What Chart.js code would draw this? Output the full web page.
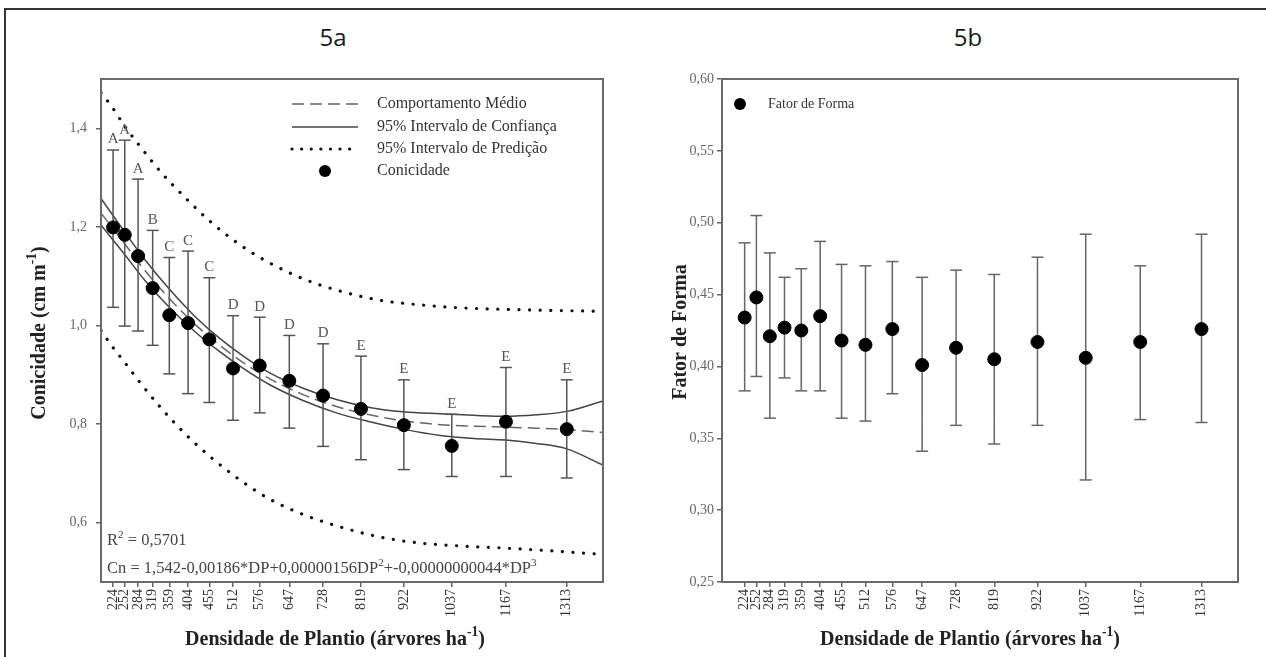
<!DOCTYPE html>
<html>
<head>
<meta charset="utf-8">
<script src="https://cdn.jsdelivr.net/npm/chart.js@4.4.0/dist/chart.umd.min.js"></script>
<style>
body{margin:0;background:#fff;width:1266px;height:657px;overflow:hidden;position:relative;font-family:"Open Sans",sans-serif}
#moldura{position:absolute;left:4px;top:8px;width:1280px;height:680px;border-top:2px solid #333;border-left:2px solid #333}
.tit{position:absolute;top:20px;font-size:24px;color:#1a1a1a;transform:translateX(-50%)}
canvas{position:absolute;top:60px}
</style>
</head>
<body>
<div id="moldura"></div>
<div class="tit" style="left:333px">5a</div>
<div class="tit" style="left:968px">5b</div>
<canvas id="graf5a" width="640" height="597" style="left:0px"></canvas>
<canvas id="graf5b" width="626" height="597" style="left:640px"></canvas>
<script>
// densidades de plantio (arvores/ha)
var densidade = [224, 252, 284, 319, 359, 404, 455, 512, 576, 647, 728, 819, 922, 1037, 1167, 1313];

// 5a - conicidade (cm/m), media e limites das barras
var conicidade = [1.199, 1.184, 1.141, 1.076, 1.021, 1.005, 0.972, 0.913, 0.919, 0.888, 0.858, 0.831, 0.798, 0.756, 0.805, 0.790];
var conicSup = [1.356, 1.376, 1.297, 1.193, 1.138, 1.151, 1.097, 1.020, 1.017, 0.980, 0.963, 0.938, 0.890, 0.820, 0.915, 0.890];
var conicInf = [1.037, 0.999, 0.989, 0.960, 0.902, 0.862, 0.844, 0.808, 0.823, 0.792, 0.755, 0.728, 0.708, 0.694, 0.694, 0.691];
var letras = ['A', 'A', 'A', 'B', 'C', 'C', 'C', 'D', 'D', 'D', 'D', 'E', 'E', 'E', 'E', 'E'];

// curvas
var xCurva = [195, 250, 300, 360, 420, 480, 540, 600, 680, 760, 840, 920, 1010, 1090, 1167, 1240, 1313, 1400];
var media = [1.228, 1.168, 1.112, 1.054, 1.003, 0.960, 0.923, 0.892, 0.860, 0.836, 0.819, 0.807, 0.799, 0.796, 0.794, 0.792, 0.789, 0.783];
var icSup = [1.258, 1.192, 1.134, 1.073, 1.019, 0.974, 0.936, 0.904, 0.873, 0.850, 0.834, 0.825, 0.821, 0.818, 0.816, 0.819, 0.826, 0.847];
var icInf = [1.204, 1.146, 1.092, 1.036, 0.988, 0.947, 0.911, 0.880, 0.848, 0.823, 0.805, 0.790, 0.777, 0.771, 0.768, 0.761, 0.750, 0.717];

var xPred = [195, 220, 253, 291, 340, 400, 460, 530, 600, 680, 760, 860, 960, 1060, 1160, 1260, 1400];
var predSup = [1.472, 1.445, 1.403, 1.361, 1.310, 1.257, 1.209, 1.163, 1.127, 1.095, 1.072, 1.052, 1.042, 1.036, 1.033, 1.031, 1.029];
var predInf = [0.990, 0.960, 0.924, 0.882, 0.832, 0.778, 0.732, 0.686, 0.648, 0.617, 0.594, 0.572, 0.559, 0.553, 0.549, 0.544, 0.536];

var ticksY5a = [0.6, 0.8, 1.0, 1.2, 1.4];

// 5b - fator de forma
var fator = [0.434, 0.448, 0.421, 0.427, 0.425, 0.435, 0.418, 0.415, 0.426, 0.401, 0.413, 0.405, 0.417, 0.406, 0.417, 0.426];
var fatorSup = [0.486, 0.505, 0.479, 0.462, 0.468, 0.487, 0.471, 0.470, 0.473, 0.462, 0.467, 0.464, 0.476, 0.492, 0.470, 0.492];
var fatorInf = [0.383, 0.393, 0.364, 0.392, 0.383, 0.383, 0.364, 0.362, 0.381, 0.341, 0.359, 0.346, 0.359, 0.321, 0.363, 0.361];
var ticksY5b = [0.25, 0.30, 0.35, 0.40, 0.45, 0.50, 0.55, 0.60];

var serif = '"Liberation Serif", "Times New Roman", serif';

function pares(xs, ys) {
  return xs.map(function (x, i) { return {x: x, y: ys[i]}; });
}

// cada barra vira dois pontos + um nulo para quebrar a linha
function barras(xs, inf, sup) {
  var d = [];
  xs.forEach(function (x, i) {
    d.push({x: x, y: inf[i]}, {x: x, y: sup[i]}, {x: x, y: null});
  });
  return d;
}

// escreve texto com partes sobrescritas: [[texto, sobrescrito?], ...]
function textoSup(ctx, partes, x, y, tam, peso, align) {
  var fonte = function (s) { return peso + ' ' + s + 'px ' + serif; };
  var w = 0;
  partes.forEach(function (p) {
    ctx.font = fonte(p[1] ? tam * 0.68 : tam);
    w += ctx.measureText(p[0]).width;
  });
  var cx = align === 'center' ? x - w / 2 : x;
  ctx.textAlign = 'left';
  ctx.textBaseline = 'middle';
  partes.forEach(function (p) {
    ctx.font = fonte(p[1] ? tam * 0.68 : tam);
    ctx.fillText(p[0], cx, p[1] ? y - tam * 0.38 : y);
    cx += ctx.measureText(p[0]).width;
  });
}

function amostra(ctx, tipo, x0, x1, y) {
  ctx.save();
  if (tipo === 'tracejada') {
    ctx.strokeStyle = '#666'; ctx.lineWidth = 1.5; ctx.setLineDash([12, 6]);
  } else if (tipo === 'solida') {
    ctx.strokeStyle = '#444'; ctx.lineWidth = 1.5;
  } else if (tipo === 'pontilhada') {
    ctx.strokeStyle = '#111'; ctx.lineWidth = 3.2; ctx.lineCap = 'round'; ctx.setLineDash([0.1, 9.5]);
  }
  if (tipo === 'ponto') {
    ctx.fillStyle = '#000';
    ctx.beginPath(); ctx.arc((x0 + x1) / 2, y, 6, 0, Math.PI * 2); ctx.fill();
  } else {
    ctx.beginPath(); ctx.moveTo(x0, y); ctx.lineTo(x1, y); ctx.stroke();
  }
  ctx.restore();
}

var extras = {
  id: 'extras',
  afterDraw: function (chart, args, opts) {
    var ctx = chart.ctx, a = chart.chartArea;
    ctx.save();
    ctx.strokeStyle = '#6a6a6a';
    ctx.lineWidth = 2;
    ctx.strokeRect(a.left, a.top, a.right - a.left, a.bottom - a.top);

    ctx.fillStyle = '#222';
    textoSup(ctx, opts.tituloX, opts.posTituloX[0], opts.posTituloX[1], 20, 'bold', 'center');
    ctx.save();
    ctx.translate(opts.posTituloY[0], opts.posTituloY[1]);
    ctx.rotate(-Math.PI / 2);
    textoSup(ctx, opts.tituloY, 0, 0, 20, 'bold', 'center');
    ctx.restore();

    opts.legenda.forEach(function (l) {
      amostra(ctx, l.tipo, opts.legX[0], opts.legX[1], l.y);
      ctx.fillStyle = '#333';
      textoSup(ctx, [[l.texto, false]], opts.legX[2], l.y, opts.tamLeg, 'normal', 'left');
    });

    if (opts.letras) {
      var xs = chart.scales.x, ys = chart.scales.y;
      ctx.fillStyle = '#555';
      ctx.font = '15px ' + serif;
      ctx.textAlign = 'center';
      ctx.textBaseline = 'bottom';
      opts.letras.forEach(function (t, i) {
        ctx.fillText(t, xs.getPixelForValue(densidade[i]), ys.getPixelForValue(conicSup[i]) - 3);
      });
    }
    ctx.fillStyle = '#444';
    (opts.equacoes || []).forEach(function (e) {
      textoSup(ctx, e.partes, e.x, e.y, 16.5, 'normal', 'left');
    });
    ctx.restore();
  }
};

function eixos(xmin, ymin, ymax, larguraY, ticksY, fmtY, padY) {
  return {
    x: {
      type: 'linear', min: xmin, max: 1400,
      afterBuildTicks: function (s) { s.ticks = densidade.map(function (v) { return {value: v}; }); },
      afterFit: function (s) { s.height = 75; },
      grid: {display: true, drawOnChartArea: false, drawTicks: true, tickLength: 5, color: '#666', lineWidth: 1.5},
      border: {display: true, color: '#6a6a6a', width: 2},
      ticks: {
        autoSkip: false, minRotation: 90, maxRotation: 90, padding: 2,
        color: '#333', font: {family: serif, size: 14},
        callback: function (v) { return String(v); }
      }
    },
    y: {
      type: 'linear', min: ymin, max: ymax,
      afterBuildTicks: function (s) { s.ticks = ticksY.map(function (v) { return {value: v}; }); },
      afterFit: function (s) { s.width = larguraY; },
      grid: {display: true, drawOnChartArea: false, drawTicks: true, tickLength: 5, color: '#666', lineWidth: 1.5},
      border: {display: true, color: '#6a6a6a', width: 2},
      ticks: {
        padding: padY, color: '#666', font: {family: serif, size: 14},
        callback: fmtY
      }
    }
  };
}

new Chart(document.getElementById('graf5a'), {
  type: 'line',
  data: {
    datasets: [{
      label: 'Conicidade',
      data: pares(densidade, conicidade),
      showLine: false, pointRadius: 6.5, pointBackgroundColor: '#000', pointBorderColor: '#000'
    }, {
      label: 'barras',
      data: barras(densidade, conicInf, conicSup),
      borderColor: '#555', borderWidth: 1.5, spanGaps: false,
      pointStyle: 'line', pointBorderColor: '#555', pointBorderWidth: 1.5,
      pointRadius: function (c) { return c.raw && c.raw.y !== null ? 6 : 0; }
    }, {
      label: 'Comportamento Médio',
      data: pares(xCurva, media),
      borderColor: '#666', borderWidth: 1.5, borderDash: [12, 6], pointRadius: 0,
      cubicInterpolationMode: 'monotone'
    }, {
      label: '95% Intervalo de Confiança',
      data: pares(xCurva, icSup),
      borderColor: '#444', borderWidth: 1.5, pointRadius: 0, cubicInterpolationMode: 'monotone'
    }, {
      label: '95% Intervalo de Confiança',
      data: pares(xCurva, icInf),
      borderColor: '#444', borderWidth: 1.5, pointRadius: 0, cubicInterpolationMode: 'monotone'
    }, {
      label: '95% Intervalo de Predição',
      data: pares(xPred, predSup),
      borderColor: '#111', borderWidth: 3.2, borderDash: [0.1, 10.5], borderCapStyle: 'round',
      pointRadius: 0, cubicInterpolationMode: 'monotone'
    }, {
      label: '95% Intervalo de Predição',
      data: pares(xPred, predInf),
      borderColor: '#111', borderWidth: 3.2, borderDash: [0.1, 10.5], borderCapStyle: 'round',
      pointRadius: 0, cubicInterpolationMode: 'monotone'
    }]
  },
  options: {
    responsive: false, animation: false, devicePixelRatio: 1,
    layout: {padding: {top: 19, right: 37, left: 0, bottom: 0}},
    scales: eixos(195, 0.48, 1.5, 101, ticksY5a, function (v) { return v.toFixed(1).replace('.', ','); }, 9),
    plugins: {
      legend: {display: false}, tooltip: {enabled: false},
      extras: {
        tituloX: [['Densidade de Plantio (árvores ha', false], ['-1', true], [')', false]],
        posTituloX: [335, 580],
        tituloY: [['Conicidade (cm m', false], ['-1', true], [')', false]],
        posTituloY: [40, 273],
        legX: [292, 358, 377],
        tamLeg: 16,
        legenda: [
          {tipo: 'tracejada', texto: 'Comportamento Médio', y: 44},
          {tipo: 'solida', texto: '95% Intervalo de Confiança', y: 67},
          {tipo: 'pontilhada', texto: '95% Intervalo de Predição', y: 89},
          {tipo: 'ponto', texto: 'Conicidade', y: 111}
        ],
        letras: letras,
        equacoes: [
          {x: 107, y: 481, partes: [['R', false], ['2', true], [' = 0,5701', false]]},
          {x: 107, y: 509, partes: [['Cn = 1,542-0,00186*DP+0,00000156DP', false], ['2', true], ['+-0,00000000044*DP', false], ['3', true]]}
        ]
      }
    }
  },
  plugins: [extras]
});

new Chart(document.getElementById('graf5b'), {
  type: 'line',
  data: {
    datasets: [{
      label: 'Fator de Forma',
      data: pares(densidade, fator),
      showLine: false, pointRadius: 6.5, pointBackgroundColor: '#000', pointBorderColor: '#000'
    }, {
      label: 'barras',
      data: barras(densidade, fatorInf, fatorSup),
      borderColor: '#666', borderWidth: 1.5, spanGaps: false,
      pointStyle: 'line', pointBorderColor: '#666', pointBorderWidth: 1.5,
      pointRadius: function (c) { return c.raw && c.raw.y !== null ? 6 : 0; }
    }]
  },
  options: {
    responsive: false, animation: false, devicePixelRatio: 1,
    layout: {padding: {top: 19, right: 28, left: 0, bottom: 0}},
    scales: eixos(170, 0.25, 0.60, 82, ticksY5b, function (v) { return v.toFixed(2).replace('.', ','); }, 3),
    plugins: {
      legend: {display: false}, tooltip: {enabled: false},
      extras: {
        tituloX: [['Densidade de Plantio (árvores ha', false], ['-1', true], [')', false]],
        posTituloX: [330, 580],
        tituloY: [['Fator de Forma', false]],
        posTituloY: [41, 272],
        legX: [88, 112, 128],
        tamLeg: 14,
        legenda: [{tipo: 'ponto', texto: 'Fator de Forma', y: 44}]
      }
    }
  },
  plugins: [extras]
});
</script>
</body>
</html>
